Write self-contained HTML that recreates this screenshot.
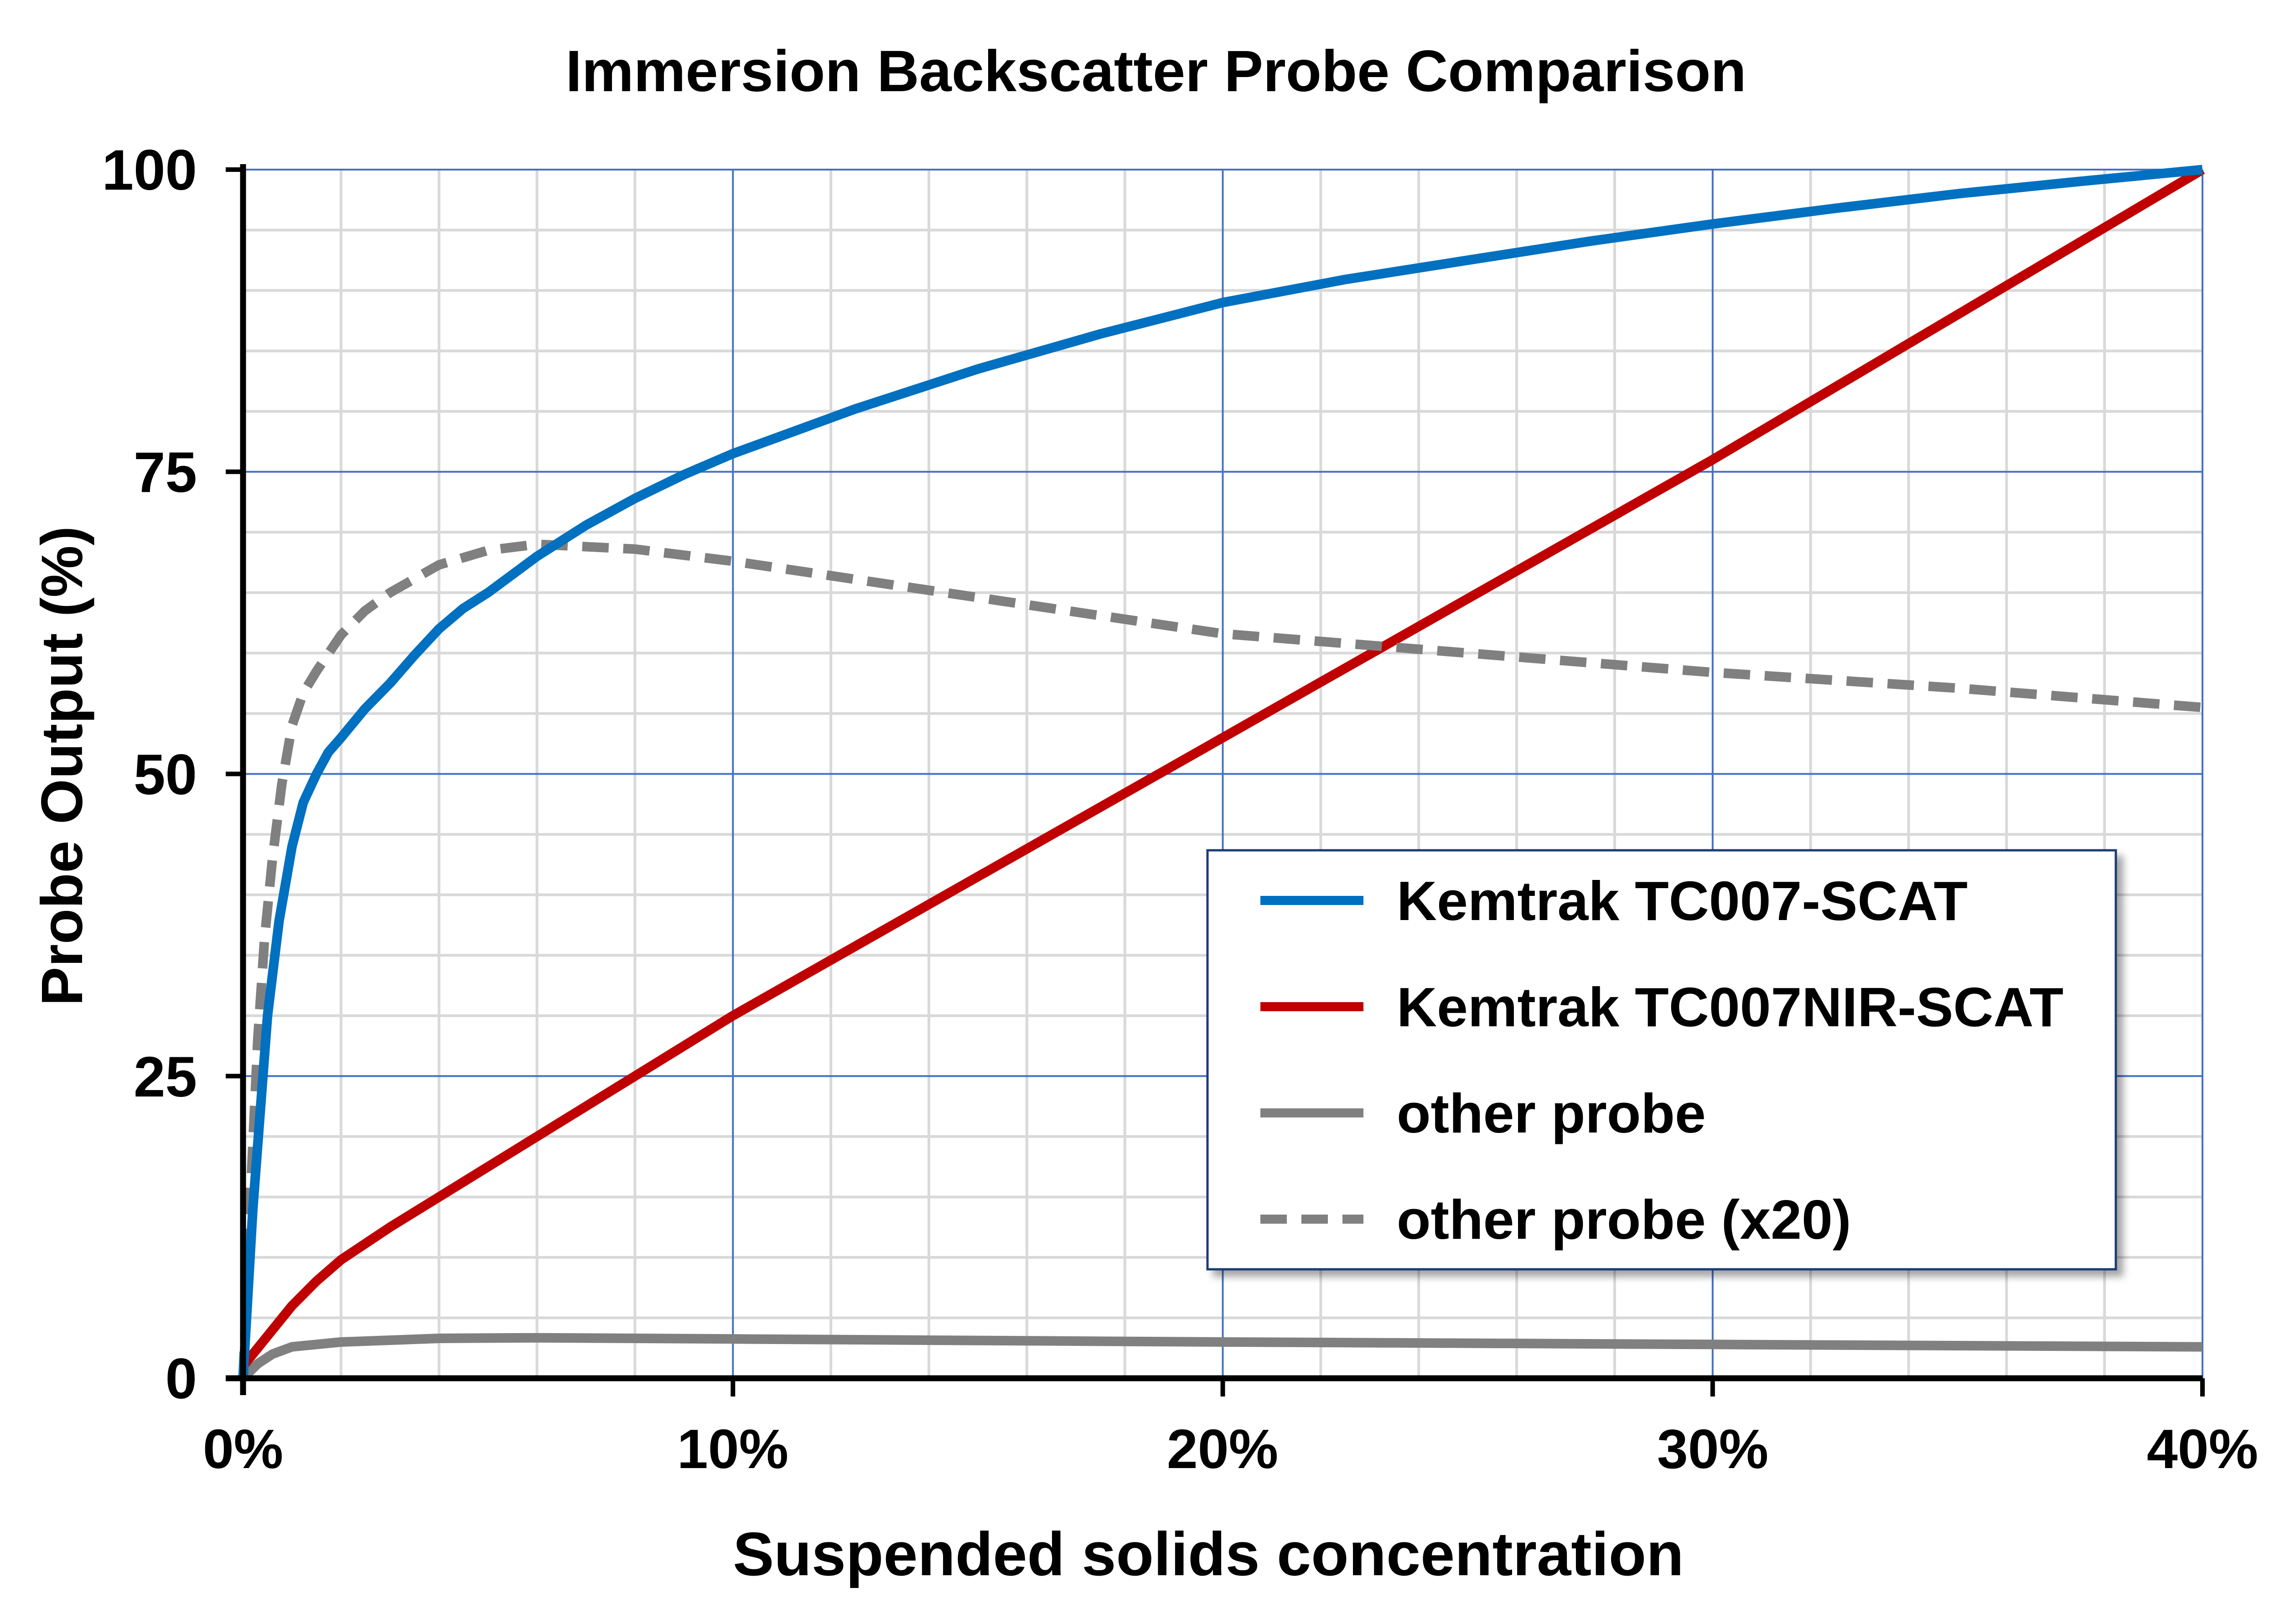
<!DOCTYPE html>
<html><head><meta charset="utf-8"><style>
html,body{margin:0;padding:0;background:#fff;}
svg{display:block;}
text{font-family:"Liberation Sans",sans-serif;font-weight:bold;fill:#000;}
</style></head><body>
<svg width="5012" height="3562" viewBox="0 0 5012 3562" xmlns="http://www.w3.org/2000/svg">
<defs><filter id="sh" x="-5%" y="-5%" width="115%" height="115%"><feDropShadow dx="14" dy="14" stdDeviation="8" flood-color="#000" flood-opacity="0.35"/></filter></defs>
<path fill="none" stroke="#d9d9d9" stroke-width="6" d="M747.9,372V3023M962.7,372V3023M1177.6,372V3023M1392.4,372V3023M1822.1,372V3023M2037,372V3023M2251.8,372V3023M2466.7,372V3023M2896.4,372V3023M3111.2,372V3023M3326.1,372V3023M3540.9,372V3023M3970.6,372V3023M4185.5,372V3023M4400.3,372V3023M4615.2,372V3023
M533,2890.5H4830M533,2757.9H4830M533,2625.4H4830M533,2492.8H4830M533,2227.7H4830M533,2095.2H4830M533,1962.6H4830M533,1830.1H4830M533,1565H4830M533,1432.4H4830M533,1299.9H4830M533,1167.3H4830M533,902.2H4830M533,769.7H4830M533,637.1H4830M533,504.6H4830"/>
<path fill="none" stroke="#4472c4" stroke-width="4" d="M1607.3,372V3023M2681.5,372V3023M3755.8,372V3023M4830,372V3023M533,372H4830M533,1034.8H4830M533,1697.5H4830M533,2360.3H4830"/>
<g fill="none" stroke-width="21" stroke-linejoin="round" stroke-linecap="butt">
<polyline stroke="#808080" points="533,3023 565.2,2991.2 597.5,2970 640.4,2954.1 747.9,2943.5 962.7,2935.5 1177.6,2934.2 1607.3,2936.8 2681.5,2943.5 3755.8,2948.8 4830,2954.1"/>
<polyline stroke="#c00000" points="533,2996.5 586.7,2930.2 640.4,2863.9 694,2810 747.9,2763.2 855.3,2691.6 962.7,2625.4 1177.6,2492.8 1392.4,2360.3 1607.3,2227.7 2144.4,1922.8 2681.5,1618 3755.8,1008.2 4830,372"/>
<polyline stroke="#808080" stroke-dasharray="58 32" points="533,3023 549.1,2625.4 565.2,2280.7 580,2060 597.5,1883.1 618,1720 640.4,1591.5 665,1520 694.1,1472.2 747.9,1392.6 800,1340 855.3,1299.9 962.7,1238.9 1070.1,1207.1 1177.6,1193.8 1392.4,1204.4 1607.3,1231 2144.4,1310.5 2681.5,1390 3218.6,1432.4 3755.8,1474.8 4292.9,1509.3 4830,1551.7"/>
<polyline stroke="#0070c0" points="533,3023 554.5,2651.9 586.7,2227.7 612,2020 640.4,1856.6 665,1760 694.1,1697.5 720,1650 747.9,1618 800,1555 855.3,1498.7 910,1436 962.7,1379.4 1015,1335 1070.1,1299.9 1177.6,1220.3 1285,1152 1392.4,1093.2 1500,1041 1607.3,995 1875.8,896.9 2144.4,809.4 2413,732.5 2681.5,663.6 2950,613 3218.6,570.8 3487,529 3755.8,491.3 4024,457 4292.9,425 4560,398 4830,372"/>
</g>
<line x1="533" y1="360" x2="533" y2="3060" stroke="#000" stroke-width="13"/>
<line x1="495" y1="3023" x2="4830" y2="3023" stroke="#000" stroke-width="13"/>
<path stroke="#000" stroke-width="10" d="M495,372H533M495,1034.8H533M495,1697.5H533M495,2360.3H533M1607.3,3023V3063M2681.5,3023V3063M3755.8,3023V3063M4830,3023V3063"/>
<text x="2535" y="200" font-size="128" text-anchor="middle">Immersion Backscatter Probe Comparison</text>
<g font-size="125" text-anchor="end">
<text x="432" y="416">100</text><text x="432" y="1079">75</text><text x="432" y="1742">50</text><text x="432" y="2405">25</text><text x="432" y="3067">0</text>
</g>
<g font-size="122" text-anchor="middle">
<text x="533" y="3220">0%</text><text x="1607" y="3220">10%</text><text x="2681" y="3220">20%</text><text x="3756" y="3220">30%</text><text x="4830" y="3220">40%</text>
</g>
<text x="2650" y="3455" font-size="135" text-anchor="middle">Suspended solids concentration</text>
<text transform="translate(180,1680) rotate(-90)" font-size="128" text-anchor="middle">Probe Output (%)</text>
<rect x="2648" y="1865" width="1992" height="919" fill="#fff" stroke="#1f3b73" stroke-width="5" filter="url(#sh)"/>
<line x1="2764" y1="1975" x2="2990" y2="1975" stroke="#0070c0" stroke-width="20"/>
<line x1="2764" y1="2208" x2="2990" y2="2208" stroke="#c00000" stroke-width="20"/>
<line x1="2764" y1="2441" x2="2990" y2="2441" stroke="#808080" stroke-width="20"/>
<line x1="2764" y1="2674" x2="2990" y2="2674" stroke="#808080" stroke-width="20" stroke-dasharray="58 32"/>
<g font-size="122">
<text x="3063" y="2018">Kemtrak TC007-SCAT</text>
<text x="3063" y="2251">Kemtrak TC007NIR-SCAT</text>
<text x="3063" y="2484">other probe</text>
<text x="3063" y="2717">other probe (x20)</text>
</g>
</svg>
</body></html>
